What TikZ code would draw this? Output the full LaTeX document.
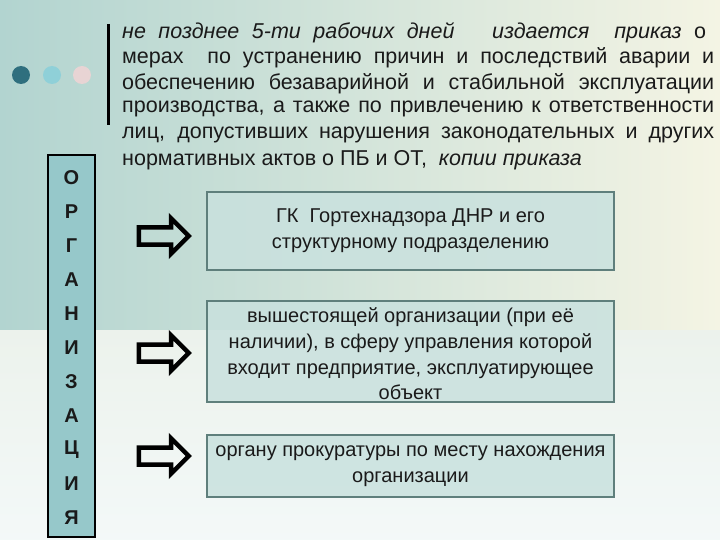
\documentclass[tikz,border=0pt]{standalone}
\usepackage{fontspec}
\setmainfont{Liberation Sans}
\usetikzlibrary{shapes.arrows,positioning}
\definecolor{bgTop}{RGB}{178,212,208}
\definecolor{bgCream}{RGB}{244,244,228}
\definecolor{bgLow}{RGB}{236,242,236}
\definecolor{boxFill}{RGB}{201,225,222}
\definecolor{boxLine}{RGB}{95,127,124}
\definecolor{orgFill}{RGB}{150,200,202}
\definecolor{dotDark}{RGB}{47,111,126}
\definecolor{dotCyan}{RGB}{143,208,216}
\definecolor{dotPink}{RGB}{232,212,212}
\definecolor{txt}{RGB}{26,26,26}
\tikzset{
    every node/.append style={align=center,text=txt},
    target/.style={rectangle,draw=boxLine,line width=1.6pt,fill=boxFill,fill opacity=0.85,
        text opacity=1,minimum width=407pt,font=\fontsize{20}{25.7}\selectfont,inner sep=2pt},
    blockarr/.style={single arrow,draw=black,line width=4.5pt,minimum height=50pt,
        minimum width=31pt,single arrow head extend=9.25pt,single arrow head indent=0pt,
        inner xsep=0pt,inner ysep=6.25pt},
    bodyline/.style={anchor=west,inner sep=0pt,font=\fontsize{21.5}{25}\selectfont},
    letter/.style={font=\bfseries\fontsize{20}{24}\selectfont,inner sep=0pt}
}

\begin{document}
\begin{tikzpicture}[x=1pt,y=-1pt]
    \useasboundingbox (0,0) rectangle (720,540);
    % background
    \fill[bgLow] (0,0) rectangle (720,540);
    \shade[left color=bgTop,right color=bgCream] (0,0) rectangle (720,330);
    \shade[top color=bgLow,bottom color=white!85!bgTop] (0,330) rectangle (720,540);

    % decoration top left
    \fill[dotDark] (21,75) circle (9);
    \fill[dotCyan] (52,75) circle (9);
    \fill[dotPink] (82,75) circle (9);
    \draw[line width=3pt] (108,24) -- (108,125);

    % text of the order
    \node[bodyline] (l1) at (122,33) {\makebox[584pt][s]{\itshape не позднее 5-ти рабочих дней\ \ \ издается\ \ приказ \upshape о}};
    \node[bodyline] (l2) at (122,58) {\makebox[592pt][s]{мерах\ \ по устранению причин и последствий аварии и}};
    \node[bodyline] (l3) at (122,84) {\makebox[592pt][s]{обеспечению безаварийной и стабильной эксплуатации}};
    \node[bodyline] (l4) at (122,109) {\makebox[592pt][s]{производства, а также по привлечению к ответственности}};
    \node[bodyline] (l5) at (122,135) {\makebox[592pt][s]{лиц, допустивших нарушения законодательных и других}};
    \node[bodyline] (l6) at (122,160) {нормативных актов о ПБ и ОТ,\ \ \textit{копии приказа}};

    % vertical title
    \node[rectangle,draw=black,line width=2.4pt,fill=orgFill,minimum width=47pt,minimum height=382pt]
        (org) at (71.5,346) {};
    \foreach \ch [count=\i from 0] in {О,Р,Г,А,Н,И,З,А,Ц,И,Я}
        \node[letter] (ch\i) at (71.5,178+34*\i) {\ch};

    % recipients
    \node[target,minimum height=78pt] (gk) at (410.5,231) {ГК\ \ Гортехнадзора ДНР и его\\структурному подразделению};
    \node[target,minimum height=97pt] (vysh) at (410.5,351.5) {\\[-6pt]вышестоящей организации (при её\\наличии), в сферу управления которой\\входит предприятие, эксплуатирующее\\объект};
    \node[target,minimum height=62pt] (prok) at (410.5,466) {органу прокуратуры по месту нахождения\\организации};

    \node[blockarr] (a1) at (159.5,236) {};
    \node[blockarr] (a2) at (159.5,353) {};
    \node[blockarr] (a3) at (159.5,456) {};
\end{tikzpicture}
\end{document}
